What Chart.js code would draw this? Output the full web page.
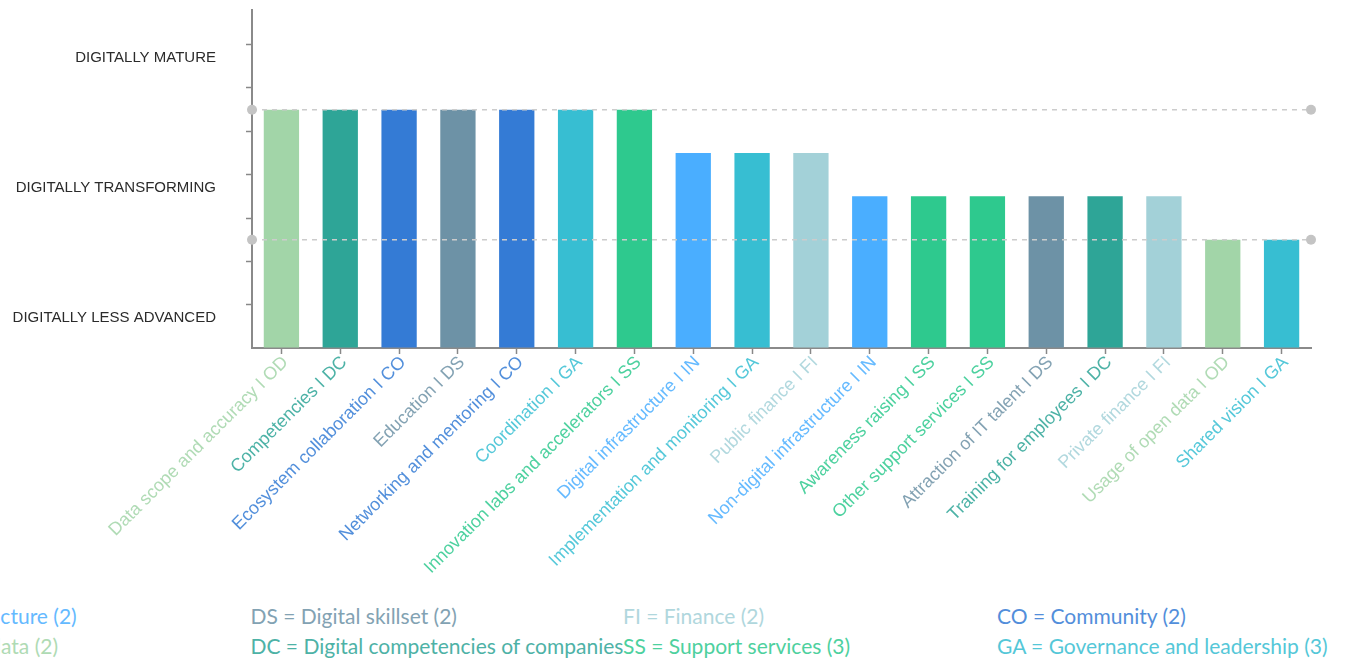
<!DOCTYPE html>
<html>
<head>
<meta charset="utf-8">
<title>Digital maturity by sub-dimension</title>
<script src="https://cdn.jsdelivr.net/npm/chart.js@4.4.1/dist/chart.umd.min.js"></script>
<style>
  html, body { margin: 0; padding: 0; background: #fff; width: 1349px; height: 663px; overflow: hidden; }
  #wrap { position: relative; width: 1349px; height: 663px; overflow: hidden; }
  #chart { position: absolute; left: 0; top: 0; }
  #legend { position: absolute; left: 0; top: 601px; width: 1349px; height: 62px;
            font-family: Lato, "Open Sans", sans-serif; font-size: 21px; line-height: 30px; }
  #legend span { position: absolute; white-space: nowrap; opacity: 0.85; }
</style>
</head>
<body>
<div id="wrap">
  <canvas id="chart" width="1349" height="600"></canvas>
  <div id="legend"></div>
</div>
<script>
// Sub-dimensions, their dimension code and their maturity score
const names = [
  'Data scope and accuracy', 'Competencies', 'Ecosystem collaboration', 'Education',
  'Networking and mentoring', 'Coordination', 'Innovation labs and accelerators',
  'Digital infrastructure', 'Implementation and monitoring', 'Public finance',
  'Non-digital infrastructure', 'Awareness raising', 'Other support services',
  'Attraction of IT talent', 'Training for employees', 'Private finance',
  'Usage of open data', 'Shared vision'
];
const groups = [
  'OD', 'DC', 'CO', 'DS', 'CO', 'GA', 'SS', 'IN', 'GA', 'FI',
  'IN', 'SS', 'SS', 'DS', 'DC', 'FI', 'OD', 'GA'
];
const scores = [
  5.5, 5.5, 5.5, 5.5, 5.5, 5.5, 5.5, 4.5, 4.5, 4.5,
  3.5, 3.5, 3.5, 3.5, 3.5, 3.5, 2.5, 2.5
];

// Maturity bands shown on the vertical axis
const levelLabels = ['DIGITALLY LESS ADVANCED', 'DIGITALLY TRANSFORMING', 'DIGITALLY MATURE'];
const levelPositions = [0.7, 3.7, 6.7];
const minorTicks = [1, 2, 3, 4, 5, 6, 7];
const thresholds = [2.5, 5.5];

// Dimension key shown under the chart
const legendRows = [
  ['IN = Infrastructure (2)', 'DS = Digital skillset (2)', 'FI = Finance (2)', 'CO = Community (2)'],
  ['OD = Open data (2)', 'DC = Digital competencies of companies', 'SS = Support services (3)', 'GA = Governance and leadership (3)']
];
const legendCodes = [
  ['IN', 'DS', 'FI', 'CO'],
  ['OD', 'DC', 'SS', 'GA']
];

// Colour per dimension
const palette = {
  OD: '#a2d5a8', DC: '#2ea597', CO: '#347bd5', DS: '#6d92a6',
  GA: '#37bed2', SS: '#2ec98e', IN: '#4aaeff', FI: '#a3d1d8'
};
const colorOf = g => palette[g];
const softColorOf = g => palette[g] + 'd9';

// Dashed band limits with round caps at both ends
const thresholdLines = {
  id: 'thresholdLines',
  afterDatasetsDraw(chart) {
    const { ctx, chartArea: { left, right }, scales: { y } } = chart;
    ctx.save();
    thresholds.forEach(v => {
      const py = y.getPixelForValue(v);
      ctx.strokeStyle = '#cccccc';
      ctx.lineWidth = 1.5;
      ctx.setLineDash([5, 5]);
      ctx.beginPath();
      ctx.moveTo(left, py);
      ctx.lineTo(right, py);
      ctx.stroke();
      ctx.setLineDash([]);
      ctx.fillStyle = '#c4c4c4';
      [left, right].forEach(px => {
        ctx.beginPath();
        ctx.arc(px, py, 5, 0, Math.PI * 2);
        ctx.fill();
      });
    });
    ctx.restore();
  }
};

new Chart(document.getElementById('chart'), {
  type: 'bar',
  data: {
    labels: names.map((n, i) => n + ' I ' + groups[i]),
    datasets: [{
      data: scores,
      backgroundColor: groups.map(colorOf),
      borderWidth: 0,
      barPercentage: 0.6,
      categoryPercentage: 1
    }]
  },
  options: {
    responsive: false,
    animation: false,
    devicePixelRatio: 1,
    layout: { padding: { top: 10, right: 38, left: 0, bottom: 0 } },
    plugins: { legend: { display: false }, tooltip: { enabled: false } },
    scales: {
      x: {
        grid: { display: true, drawOnChartArea: false, offset: false, tickLength: 6, tickColor: '#888', tickWidth: 1.5 },
        border: { color: '#8a8a8a', width: 2 },
        ticks: {
          autoSkip: false,
          maxRotation: 45,
          minRotation: 45,
          padding: -2,
          labelOffset: 4,
          color: c => softColorOf(groups[c.index]),
          font: { family: '"Liberation Sans", Arial, sans-serif', size: 18 }
        },
        afterFit: s => { s.height = 252; s.paddingRight = 0; }
      },
      y: {
        min: 0,
        max: 7.8,
        afterBuildTicks: s => {
          s.ticks = [0, ...minorTicks, ...levelPositions].sort((a, b) => a - b).map(v => ({ value: v }));
        },
        grid: {
          drawOnChartArea: false,
          tickLength: 6,
          tickWidth: 1.5,
          tickColor: c => (c.tick && Number.isInteger(c.tick.value) && c.tick.value > 0) ? '#888' : 'rgba(0,0,0,0)'
        },
        border: { color: '#8a8a8a', width: 2 },
        ticks: {
          autoSkip: false,
          padding: 30,
          color: '#2b2b2b',
          font: { family: '"Liberation Sans", Arial, sans-serif', size: 15 },
          callback: v => {
            const k = levelPositions.indexOf(v);
            return k >= 0 ? levelLabels[k] : '';
          }
        },
        afterFit: s => { s.width = 252; s.paddingTop = 0; s.paddingBottom = 0; }
      }
    }
  },
  plugins: [thresholdLines]
});

// Dimension key
const columnLefts = [-123, 250.5, 623, 997];
const legendEl = document.getElementById('legend');
legendRows.forEach((row, r) => {
  row.forEach((text, c) => {
    const span = document.createElement('span');
    span.textContent = text;
    span.style.left = columnLefts[c] + 'px';
    span.style.top = (r * 30) + 'px';
    span.style.color = colorOf(legendCodes[r][c]);
    legendEl.appendChild(span);
  });
});
</script>
</body>
</html>
